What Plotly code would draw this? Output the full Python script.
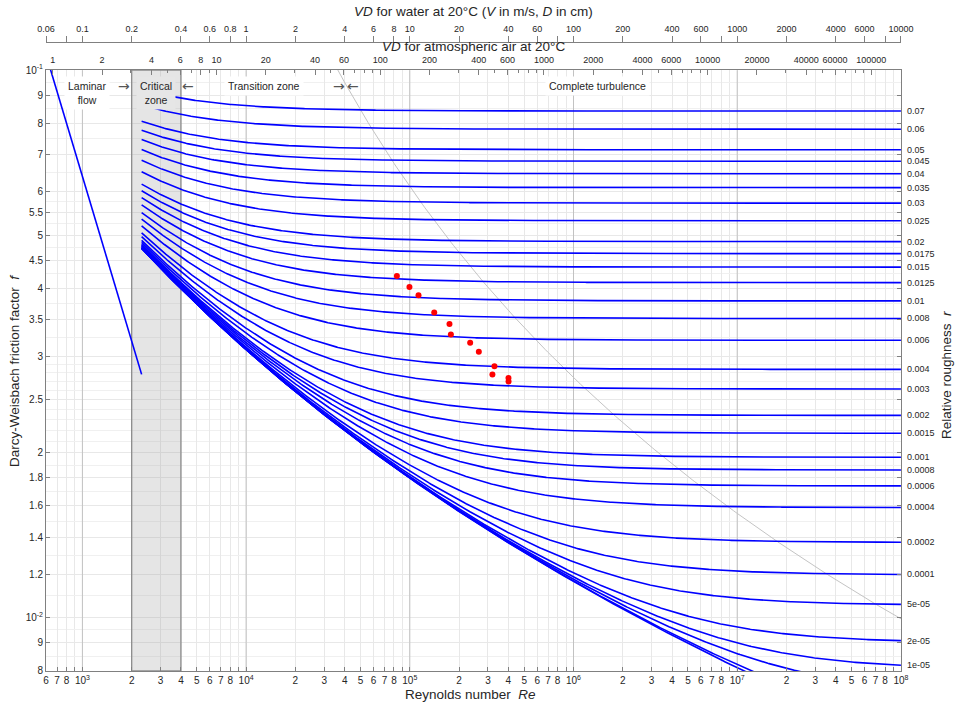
import numpy as np
import plotly.graph_objects as go

# ---------------- data ----------------
roughness = [0.07, 0.06, 0.05, 0.045, 0.04, 0.035, 0.03, 0.025, 0.02, 0.0175, 0.015,
             0.0125, 0.01, 0.008, 0.006, 0.004, 0.003, 0.002, 0.0015, 0.001, 0.0008,
             0.0006, 0.0004, 0.0002, 0.0001, 5e-05, 2e-05, 1e-05]
roughness_labels = ["0.07", "0.06", "0.05", "0.045", "0.04", "0.035", "0.03", "0.025",
                    "0.02", "0.0175", "0.015", "0.0125", "0.01", "0.008", "0.006", "0.004",
                    "0.003", "0.002", "0.0015", "0.001", "0.0008", "0.0006", "0.0004",
                    "0.0002", "0.0001", "5e-05", "2e-05", "1e-05"]
unlabeled_roughness = [5e-06, 1e-06, 0.0]

Re_turb_start = 2300.0
Re_max = 1e8
Re_min = 600.0
Re_lam_end = 2300.0
critical_zone = [2000.0, 4000.0]
f_min, f_max = 0.008, 0.1

dots_Re = [83400, 99500, 113000, 141000, 174700, 178200, 233700, 264000, 328900, 319600, 400600, 401000]
dots_f = [0.0421, 0.0402, 0.0388, 0.0361, 0.0344, 0.0329, 0.0318, 0.0306, 0.0288, 0.0278, 0.0274, 0.0270]

y_ticks = [0.008, 0.009, 0.01, 0.012, 0.014, 0.016, 0.018, 0.02, 0.025, 0.03, 0.035, 0.04,
           0.045, 0.05, 0.055, 0.06, 0.07, 0.08, 0.09, 0.1]
y_ticktext = ["8", "9", "10<sup>-2</sup>", "1.2", "1.4", "1.6", "1.8", "2", "2.5", "3", "3.5",
              "4", "4.5", "5", "5.5", "6", "7", "8", "9", "10<sup>-1</sup>"]

water_VD = [0.06, 0.1, 0.2, 0.4, 0.6, 0.8, 1, 2, 4, 6, 8, 10, 20, 40, 60, 100, 200, 400,
            600, 1000, 2000, 4000, 6000, 10000]
water_VD_minor = [0.08, 80, 800, 8000]
water_factor = 1e4  # Re per (m/s * cm), nu = 1.0e-6

air_VD = [1, 2, 4, 6, 8, 10, 20, 40, 60, 100, 200, 400, 600, 1000, 2000, 4000, 6000,
          10000, 20000, 40000, 60000, 100000]
air_factor = 0.01 / 1.516e-5  # Re per (m/s * cm)

# ---------------- helpers ----------------
def colebrook(Re, r):
    x = np.full_like(Re, 8.0)
    for _ in range(200):
        x = -2.0 * np.log10(r / 3.7 + 2.51 * x / Re)
    return 1.0 / x ** 2

W, H = 955, 706
ML, MR, MT, MB = 46, 54, 20, 35
PW = W - ML - MR
PH = H - MT - MB
PLOT_TOP = 70

def px(x, y):
    return (x - ML) / PW, (H - MB - y) / PH

FONT = "Arial, Liberation Sans, Helvetica, sans-serif"
TXT = "#262626"
AX = "#808080"
BLUE = "#0000ff"

xr = [np.log10(Re_min) - 0.0005, np.log10(Re_max) + 0.0005]
yr = [np.log10(f_min) - 0.0003, np.log10(f_max) + 0.0003]

fig = go.Figure()

# critical zone
fig.add_trace(go.Scatter(
    x=[critical_zone[0], critical_zone[1], critical_zone[1], critical_zone[0], critical_zone[0]],
    y=[f_min, f_min, f_max, f_max, f_min], mode="lines", fill="toself",
    fillcolor="rgba(150,150,150,0.25)", line=dict(color="#8c8c8c", width=1.3),
    hoverinfo="skip"))

# decade lines
for d in range(3, 8):
    fig.add_trace(go.Scatter(x=[10 ** d, 10 ** d], y=[f_min, f_max], mode="lines",
                             line=dict(color="#c2c2c2", width=1), hoverinfo="skip"))

# complete turbulence boundary
r_b = np.logspace(-5, -1, 300)
Re_b = 3500.0 / r_b
f_b = np.array([colebrook(np.array([R]), rr)[0] for R, rr in zip(Re_b, r_b)])
fig.add_trace(go.Scatter(x=Re_b, y=f_b, mode="lines", line=dict(color="#c4c4c4", width=1),
                         hoverinfo="skip"))

# laminar
Re_l = np.logspace(np.log10(Re_min), np.log10(Re_lam_end), 50)
fig.add_trace(go.Scatter(x=Re_l, y=64.0 / Re_l, mode="lines", line=dict(color=BLUE, width=1.6),
                         hoverinfo="skip"))

# turbulent curves
Re_t = np.logspace(np.log10(Re_turb_start), np.log10(Re_max), 600)
annotations = []
for r, lab in zip(roughness, roughness_labels):
    f = colebrook(Re_t, r)
    fig.add_trace(go.Scatter(x=Re_t, y=f, mode="lines", line=dict(color=BLUE, width=1.6),
                             hoverinfo="skip"))
    annotations.append(dict(xref="x", yref="y", x=np.log10(Re_max), y=float(np.log10(f[-1])),
                            text=lab, showarrow=False, xanchor="left", xshift=4,
                            font=dict(size=9, color=TXT, family=FONT)))
for r in unlabeled_roughness:
    f = colebrook(Re_t, r)
    fig.add_trace(go.Scatter(x=Re_t, y=f, mode="lines", line=dict(color=BLUE, width=1.6),
                             hoverinfo="skip"))

# red dots
fig.add_trace(go.Scatter(x=dots_Re, y=dots_f, mode="markers",
                         marker=dict(color="#ff0000", size=6), hoverinfo="skip"))

# invisible anchors so the top axes get drawn
fig.add_trace(go.Scatter(x=[1e4], y=[0.05], xaxis="x2", yaxis="y", mode="markers",
                         marker=dict(opacity=0), hoverinfo="skip"))
fig.add_trace(go.Scatter(x=[1e4], y=[0.05], xaxis="x3", yaxis="y", mode="markers",
                         marker=dict(opacity=0), hoverinfo="skip"))

# in-plot labels
def lab(text, x, y, bg="white", size=10.5, family=FONT, color=TXT):
    xp, yp = px(x, y)
    return dict(xref="paper", yref="paper", x=xp, y=yp, text=text, showarrow=False,
                xanchor="center", yanchor="middle", bgcolor=bg, borderpad=3,
                font=dict(size=size, color=color, family=family))

ARW = "DejaVu Sans, sans-serif"
ACOL = "#555555"
annotations += [
    lab("Laminar<br>flow", 87, 93),
    lab("→", 124, 86, bg="rgba(0,0,0,0)", size=14, family=ARW, color=ACOL),
    lab("Critical<br>zone", 156, 93, bg="#e6e6e6"),
    lab("←", 188, 86, bg="rgba(0,0,0,0)", size=14, family=ARW, color=ACOL),
    lab("Transition zone", 264, 86),
    lab("→", 339, 86, bg="rgba(0,0,0,0)", size=14, family=ARW, color=ACOL),
    lab("←", 353, 86, bg="rgba(0,0,0,0)", size=14, family=ARW, color=ACOL),
    lab("Complete turbulence", 597, 86),
]

def title(text, x, y, size=13.5, angle=0):
    xp, yp = px(x, y)
    return dict(xref="paper", yref="paper", x=xp, y=yp, text=text, showarrow=False,
                xanchor="center", yanchor="middle", textangle=angle,
                font=dict(size=size, color=TXT, family=FONT))

annotations += [
    title("<i>VD</i> for water at 20°C (<i>V</i> in m/s, <i>D</i> in cm)", 473, 12),
    title("<i>VD</i> for atmospheric air at 20°C", 473, 46),
    title("Reynolds number  <i>Re</i>", 470, 694),
    title("Darcy-Weisbach friction factor  <i>f</i>", 14, 371, angle=-90),
    title("Relative roughness  <i>r</i>", 946, 375, angle=-90),
]

# bottom ticks (9s are unlabeled -> minor ticks)
bx_vals, bx_text, bx_minor = [], [], []
for d in range(2, 9):
    for m in range(1, 10):
        v = m * 10 ** d
        if Re_min <= v <= Re_max:
            if m == 9:
                bx_minor.append(v)
            else:
                bx_vals.append(v)
                bx_text.append(f"10<sup>{d}</sup>" if m == 1 else str(m))

# y minor grid
y_minor = []
for v in np.arange(0.0085, 0.0100, 0.001):
    y_minor.append(round(v, 5))
for v in np.arange(0.011, 0.0300, 0.001):
    y_minor.append(round(v, 5))
for v in np.arange(0.0325, 0.0600, 0.0025):
    y_minor.append(round(v, 5))
for v in np.arange(0.065, 0.1, 0.005):
    y_minor.append(round(v, 5))
y_minor = [v for v in y_minor if all(abs(v - t) > 1e-6 for t in y_ticks)]

def fmt(v):
    return ("%g" % v)

air_Re = [v * air_factor for v in air_VD]
air_minor = []
for d in range(0, 6):
    for m in range(1, 10):
        v = m * 10 ** d
        if v not in air_VD and v * air_factor <= Re_max:
            air_minor.append(v * air_factor)
water_Re = [v * water_factor for v in water_VD]
water_minor = [v * water_factor for v in water_VD_minor]

tickfont = dict(size=10, color=TXT, family=FONT)
topfont = dict(size=9, color=TXT, family=FONT)

fig.update_layout(
    width=W, height=H, margin=dict(l=ML, r=MR, t=MT, b=MB, autoexpand=False),
    plot_bgcolor="white", paper_bgcolor="white", showlegend=False,
    annotations=annotations,
    xaxis=dict(type="log", range=xr, anchor="y", domain=[0, 1],
               tickmode="array", tickvals=bx_vals, ticktext=bx_text,
               ticks="inside", ticklen=4, tickcolor=AX, tickfont=tickfont,
               showline=True, linecolor=AX, linewidth=1, mirror=True,
               showgrid=True, gridcolor="#e8e8e8", gridwidth=1, zeroline=False,
               minor=dict(tickmode="array", tickvals=bx_minor, ticks="inside", ticklen=4,
                          tickcolor=AX, showgrid=True, gridcolor="#e8e8e8")),
    yaxis=dict(type="log", range=yr, domain=[0, (H - MB - PLOT_TOP) / PH],
               tickmode="array", tickvals=y_ticks, ticktext=y_ticktext,
               ticks="inside", ticklen=4, tickcolor=AX, tickfont=tickfont,
               showline=True, linecolor=AX, linewidth=1, mirror="ticks",
               showgrid=True, gridcolor="#e8e8e8", gridwidth=1, zeroline=False,
               minor=dict(tickmode="array", tickvals=y_minor, showgrid=True,
                          gridcolor="#f0f0f0", ticks="")),
    xaxis2=dict(type="log", range=xr, overlaying="x", anchor="y", side="top",
                tickmode="array", tickvals=air_Re, ticktext=[fmt(v) for v in air_VD],
                ticks="inside", ticklen=5, tickcolor=AX, tickfont=topfont,
                ticklabelstandoff=4,
                minor=dict(tickmode="array", tickvals=air_minor, ticks="inside",
                           ticklen=3, tickcolor=AX, showgrid=False),
                showgrid=False, showline=False, zeroline=False),
    xaxis3=dict(type="log", range=xr, overlaying="x", anchor="free",
                position=(H - MB - 42) / PH, side="top",
                tickmode="array", tickvals=water_Re, ticktext=[fmt(v) for v in water_VD],
                ticks="outside", ticklen=6, tickcolor=AX, tickfont=topfont,
                minor=dict(tickmode="array", tickvals=water_minor, ticks="outside",
                           ticklen=6, tickcolor=AX, showgrid=False),
                showgrid=False, showline=True, linecolor=AX, linewidth=1, zeroline=False),
)

fig.write_html("out.html")
